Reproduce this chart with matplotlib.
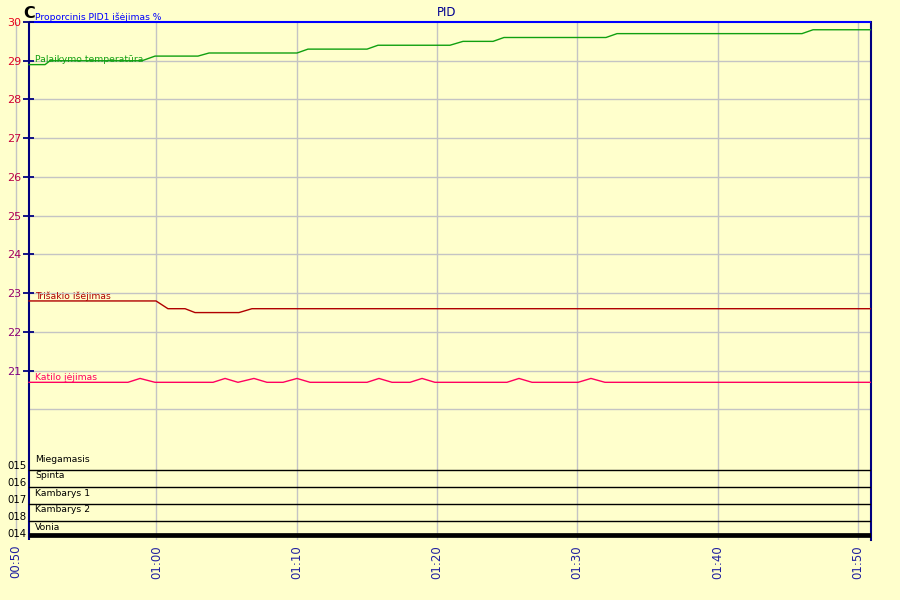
import matplotlib
matplotlib.use("Agg")
import matplotlib.pyplot as plt
import matplotlib.transforms as mtransforms
import numpy as np
from matplotlib.colors import to_rgb

# ---------------- data (time in minutes since 00:00) ----------------
green_t = [50.93, 52.07, 52.42, 58.98, 59.91, 62.97, 63.76, 70.03, 70.81, 75.02,
           75.80, 80.93, 81.86, 84.00, 84.78, 92.05, 92.84, 106.02, 106.81, 110.94]
green_v = [28.9, 28.9, 29.0, 29.0, 29.12, 29.12, 29.2, 29.2, 29.3, 29.3,
           29.4, 29.4, 29.5, 29.5, 29.6, 29.6, 29.7, 29.7, 29.8, 29.8]

red_t = [50.93, 59.98, 60.83, 62.05, 62.76, 65.89, 66.82, 110.94]
red_v = [22.8, 22.8, 22.6, 22.6, 22.5, 22.5, 22.6, 22.6]

pink_t = [50.93, 57.98, 58.84, 59.91, 64.04, 64.90, 65.82, 66.96, 67.89, 69.03,
          70.03, 70.96, 75.02, 75.87, 76.80, 78.08, 78.94, 79.86, 84.99, 85.85,
          86.78, 90.06, 90.98, 91.98, 110.94]
pink_v = [20.7, 20.7, 20.8, 20.7, 20.7, 20.8, 20.7, 20.8, 20.7, 20.7,
          20.8, 20.7, 20.7, 20.8, 20.7, 20.7, 20.8, 20.7, 20.7, 20.8,
          20.7, 20.7, 20.8, 20.7, 20.7]

series_names = ["Palaikymo temperatūra", "Trišakio išėjimas", "Katilo įėjimas"]

x_ticks = [50, 60, 70, 80, 90, 100, 110]
x_tick_labels = ["00:50", "01:00", "01:10", "01:20", "01:30", "01:40", "01:50"]
y_ticks = [21, 22, 23, 24, 25, 26, 27, 28, 29, 30]
y_tick_labels = ["21", "22", "23", "24", "25", "26", "27", "28", "29", "30"]
y_grid = [20, 21, 22, 23, 24, 25, 26, 27, 28, 29]

lane_names = ["Miegamasis", "Spinta", "Kambarys 1", "Kambarys 2", "Vonia"]
lane_codes = ["015", "016", "017", "018", "014"]

# ---------------- layout ----------------
W, H = 900, 600
BG = "#ffffcc"
NAVY = "#000080"
fig = plt.figure(figsize=(9, 6), dpi=100, facecolor=BG)
L, R, T, B = 13, 871, 22, 540
ax = fig.add_axes([L / W, 1 - B / H, (R - L) / W, (B - T) / H])
ax.set_facecolor(BG)

t0, t1 = green_t[0], green_t[-1]
PPM = 14.03  # pixels per minute
xmin = x_ticks[0] - 3 / PPM
ax.set_xlim(xmin, t1)
ax.set_ylim(16.63, 30)
ppm = (R - L) / (t1 - xmin)

for s in ["left", "top", "bottom"]:
    ax.spines[s].set_visible(False)
ax.spines["right"].set_color(NAVY)
ax.spines["right"].set_linewidth(1.5)

# x ticks / vertical grid
ax.set_xticks(x_ticks)
ax.set_xticklabels(x_tick_labels, rotation=90, color="#2020a0", fontsize=8.5)
ax.tick_params(axis="x", length=0, pad=3.6)
ax.grid(axis="x", color="#c4c4c4", lw=1.0, zorder=0)

# y ticks
ax.set_yticks(y_ticks)
ax.set_yticklabels(y_tick_labels, fontsize=8)
ax.tick_params(axis="y", length=0, pad=-5.8)
c_top, c_bot = np.array(to_rgb("#e8001c")), np.array(to_rgb("#800080"))
for lab, v in zip(ax.get_yticklabels(), y_ticks):
    f = (30 - v) / 9.0
    lab.set_color(tuple(c_top * (1 - f) + c_bot * f))

# horizontal grid
ax.hlines(y_grid, t0, t1, color="#c4c4c4", lw=1.0, zorder=1)
# frame lines
ax.hlines(30, t0, t1, color="#0000ff", lw=1.5, zorder=3, clip_on=False)
ax.axvline(t0, color=NAVY, lw=1.5, zorder=3)
# y tick marks
ax.hlines(y_ticks, t0 - 6 / ppm, t0 + 5 / ppm, color=NAVY, lw=1.3, zorder=4, clip_on=False)

# series
colors = ["#10a010", "#b00000", "#ff0060"]
for (tt, vv), name, col in zip([(green_t, green_v), (red_t, red_v), (pink_t, pink_v)],
                               series_names, colors):
    ax.plot(tt, vv, color=col, lw=1.0, zorder=5)
    ax.annotate(name, xy=(tt[0], vv[0]), xytext=(4.5, 3.6), textcoords="offset points",
                va="center", ha="left", color=col, fontsize=6.7, zorder=6)

# lanes (bottom area)
trans = mtransforms.blended_transform_factory(ax.transData, ax.transAxes)
line_px = [470, 487, 504, 521, 535]
for i, (nm, code) in enumerate(zip(lane_names, lane_codes)):
    py = line_px[i]
    fy = (B - py) / (B - T)
    if i < len(lane_names) - 1:
        ax.plot([t0, t1], [fy, fy], color="black", lw=1.0, transform=trans, zorder=4)
    else:
        ax.plot([t0, t1], [fy, fy], color="black", lw=3.4, transform=trans, zorder=4,
                solid_capstyle="butt")
    name_y = py - 11 if i < len(lane_names) - 1 else py - 8
    fig.text(35 / W, 1 - name_y / H, nm, ha="left", va="center", fontsize=6.7, color="black")
    code_y = py - 4 if i < len(lane_names) - 1 else py - 1
    fig.text(26.5 / W, 1 - code_y / H, code, ha="right", va="center", fontsize=7.3, color="black")

# titles
fig.text(447 / W, 1 - 12 / H, "PID", ha="center", va="center", fontsize=8.5, color="#000090")
fig.text(23 / W, 1 - 13 / H, "C", ha="left", va="center", fontsize=11.5, fontweight="bold", color="black")
fig.text(35 / W, 1 - 17 / H, "Proporcinis PID1 išėjimas %", ha="left", va="center",
         fontsize=6.6, color="#0000ff")

fig.savefig("out.png", dpi=100, facecolor=BG)
